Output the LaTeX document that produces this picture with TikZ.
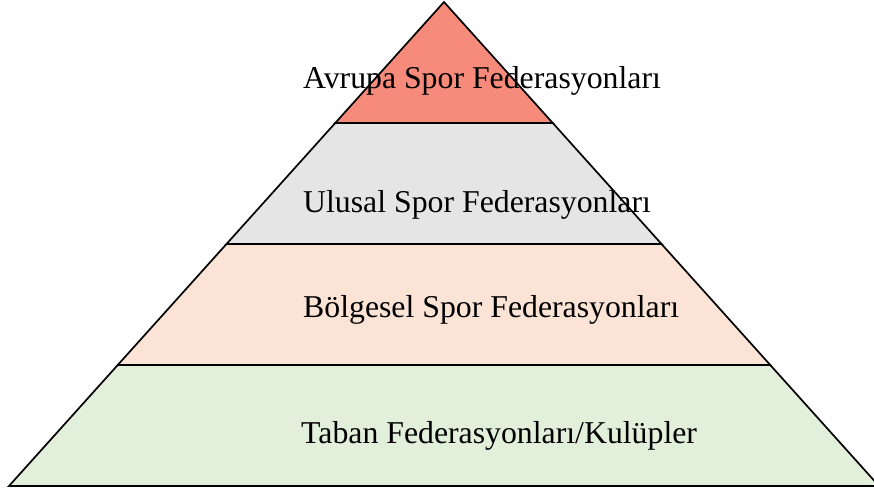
\documentclass[tikz,border=0pt]{standalone}
\usepackage{fontspec}
\setmainfont{Liberation Serif}
\usetikzlibrary{calc}
\definecolor{tierTop}{HTML}{F68B7B}
\definecolor{tierTwo}{HTML}{E5E5E5}
\definecolor{tierThree}{HTML}{FBE4D6}
\definecolor{tierBase}{HTML}{E2EFDA}
\tikzset{
  band/.style={draw=black, line width=1.7bp, line join=miter},
  label/.style={anchor=base west, inner sep=0pt, font=\fontsize{31.9}{36}\selectfont}
}
\begin{document}
\begin{tikzpicture}[x=1bp, y=-1bp]
  \useasboundingbox (0,0) rectangle (874,490);
  \clip (0,0) rectangle (874,490);
  % pyramid outline
  \coordinate (apex) at (444,2);
  \coordinate (bl) at (9,486);
  \coordinate (br) at (879,486);
  % split points on both sides
  \coordinate (l1) at ($(apex)!0.25!(bl)$);
  \coordinate (r1) at ($(apex)!0.25!(br)$);
  \coordinate (l2) at ($(apex)!0.5!(bl)$);
  \coordinate (r2) at ($(apex)!0.5!(br)$);
  \coordinate (l3) at ($(apex)!0.75!(bl)$);
  \coordinate (r3) at ($(apex)!0.75!(br)$);
  % tiers, top to bottom
  \filldraw[band, fill=tierTop] (apex) -- (r1) -- (l1) -- cycle;
  \filldraw[band, fill=tierTwo] (l1) -- (r1) -- (r2) -- (l2) -- cycle;
  \filldraw[band, fill=tierThree] (l2) -- (r2) -- (r3) -- (l3) -- cycle;
  \filldraw[band, fill=tierBase] (l3) -- (r3) -- (br) -- (bl) -- cycle;
  % tier labels
  \node[label] (t1) at (303,89) {Avrupa Spor Federasyonları};
  \node[label] (t2) at (303,213) {Ulusal Spor Federasyonları};
  \node[label] (t3) at (303,318) {Bölgesel Spor Federasyonları};
  \node[label] (t4) at (301,443) {Taban Federasyonları/Kulüpler};
\end{tikzpicture}
\end{document}
